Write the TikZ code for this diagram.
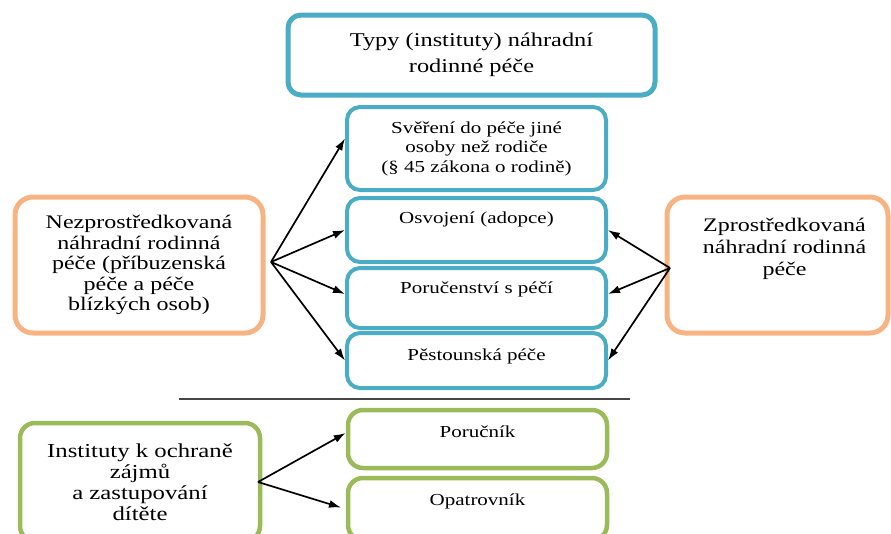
\documentclass[tikz,border=0pt]{standalone}
\usepackage{fontspec}
\usetikzlibrary{arrows.meta}
\setmainfont[FakeStretch=1.25]{Liberation Serif}
\definecolor{boxteal}{RGB}{75,172,198}
\definecolor{boxorange}{RGB}{247,180,130}
\definecolor{boxgreen}{RGB}{155,187,89}
\definecolor{sepgray}{RGB}{70,70,70}
\begin{document}
\begin{tikzpicture}[
  x=1pt, y=-1pt,
  tealbox/.style={%
    rectangle,%
    rounded corners=13pt,%
    draw=boxteal,%
    line width=4pt,%
    inner sep=0pt%
  },
  orangebox/.style={%
    rectangle,%
    rounded corners=18pt,%
    draw=boxorange,%
    line width=5pt,%
    inner sep=0pt%
  },
  greenbox/.style={%
    rectangle,%
    rounded corners=15pt,%
    draw=boxgreen,%
    line width=4.5pt,%
    inner sep=0pt%
  },
  bigtext/.style={font=\fontsize{19.2}{20.5}\selectfont, align=center},
  midtext/.style={font=\fontsize{16.8}{19.5}\selectfont, align=center},
  toplabel/.style={anchor=north, inner sep=0pt, midtext},
  arrowline/.style={-{Latex[length=12pt,width=8pt]}, line width=1.7pt, black}
]
  \useasboundingbox (0,0) rectangle (891,533);

  % heading
  \node [tealbox, line width=5pt, bigtext, minimum width=367pt, minimum height=80pt,
         font=\fontsize{19.5}{26}\selectfont] (typy) at (471.5,55)
        {Typy (instituty) náhradní\\rodinné péče};

  % kinds of care
  \node [tealbox, midtext, minimum width=259pt, minimum height=83pt] (svereni) at (476.5,148.5)
        {Svěření do péče jiné\\osoby než rodiče\\(§ 45 zákona o rodině)};
  \node [tealbox, minimum width=259pt, minimum height=64pt,
         label={[toplabel, yshift=-16pt]north:Osvojení (adopce)}] (osvojeni) at (476.5,230) {};
  \node [tealbox, minimum width=259pt, minimum height=60pt,
         label={[toplabel, yshift=-16pt]north:Poručenství s péčí}] (porucenstvi) at (476.5,298) {};
  \node [tealbox, minimum width=259pt, minimum height=55pt,
         label={[toplabel, yshift=-18pt]north:Pěstounská péče}] (pestounska) at (476.5,360.5) {};

  % both sides
  \node [orangebox, bigtext, minimum width=248pt, minimum height=136pt] (nezpro) at (139,265)
        {Nezprostředkovaná\\náhradní rodinná\\péče (příbuzenská\\péče a péče\\blízkých osob)};
  \node [orangebox, minimum width=221pt, minimum height=136pt,
         label={[toplabel, bigtext, font=\fontsize{19.2}{22}\selectfont, xshift=7pt, yshift=-23pt]north:Zprostředkovaná\\náhradní rodinná\\péče}] (zpro) at (777.5,265) {};

  \coordinate (lhub) at (271,262);
  \coordinate (rhub) at (670,268);

  \draw[arrowline] (lhub) -- ([yshift=10pt]svereni.west);
  \draw[arrowline] (lhub) -- (osvojeni.west);
  \draw[arrowline] (lhub) -- ([yshift=4pt]porucenstvi.west);
  \draw[arrowline] (lhub) -- (pestounska.west);

  \draw[arrowline] (rhub) -- (osvojeni.east);
  \draw[arrowline] (rhub) -- ([yshift=4pt]porucenstvi.east);
  \draw[arrowline] (rhub) -- (pestounska.east);

  % separator
  \coordinate (sepl) at (179,399);
  \coordinate (sepr) at (630,399);
  \draw[sepgray, line width=1.2pt] (sepl) -- (sepr);

  % protection of the child
  \node [greenbox, bigtext, font=\fontsize{19.8}{21}\selectfont, minimum width=240pt, minimum height=118pt] (instituty) at (140,482)
        {Instituty k ochraně\\zájmů\\a zastupování\\dítěte};
  \node [greenbox, minimum width=259pt, minimum height=58pt,
         label={[toplabel, yshift=-18pt]north:Poručník}] (porucnik) at (477.5,439) {};
  \node [greenbox, minimum width=259pt, minimum height=62pt,
         label={[toplabel, yshift=-18pt]north:Opatrovník}] (opatrovnik) at (477.5,509) {};

  \coordinate (ghub) at (258,482);

  \draw[arrowline] (ghub) -- ([yshift=6pt]porucnik.west);
  \draw[arrowline, shorten >=5pt] (ghub) -- (opatrovnik.west);

\end{tikzpicture}
\end{document}
